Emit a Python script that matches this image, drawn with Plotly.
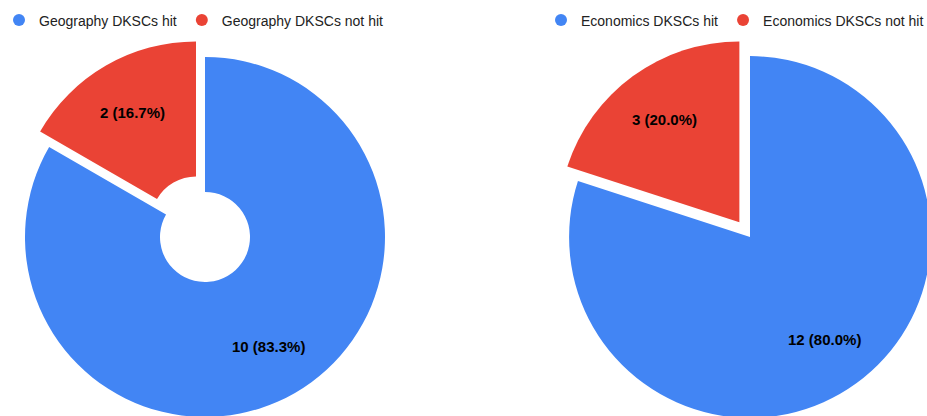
import math
import plotly.graph_objects as go

# ---- data ----
geo_labels = ["Geography DKSCs hit", "Geography DKSCs not hit"]
geo_values = [10, 2]
econ_labels = ["Economics DKSCs hit", "Economics DKSCs not hit"]
econ_values = [12, 3]
slice_colors = ["#4285F4", "#EA4335"]
pull_values = [0, 0.1]

# ---- layout geometry (page pixels) ----
# The original chart is cropped at the right and bottom edges, so the figure
# is a bit larger than the window and the page's overflow is hidden.
W, H = 950, 440
OFF = 0


def px_x(p):
    return (p - OFF) / W


def px_y(p):
    return 1 - (p - OFF) / H


# pie centres and half-sizes of their (square) domains, in page pixels
geo_c, geo_half = (205, 237), 198
econ_c, econ_half = (750, 237), 199


def dom(c, half):
    return dict(x=[px_x(c[0] - half), px_x(c[0] + half)],
                y=[px_y(c[1] + half), px_y(c[1] - half)])


def slice_labels(values, c, half, pulls, frac=0.7):
    """Place each slice's label on its mid-angle ray, like the original chart."""
    r = half / (1 + max(pulls))
    total = sum(values)
    out = []
    cum = 0
    for v, p in zip(values, pulls):
        th = 2 * math.pi * (cum + v / 2) / total
        cum += v
        sx, sy = math.sin(th), -math.cos(th)
        x = c[0] + (p + frac) * r * sx
        y = c[1] + (p + frac) * r * sy
        out.append(dict(x=px_x(x), y=px_y(y), xref="paper", yref="paper",
                        text=f"{v} ({100 * v / total:.1f}%)", showarrow=False,
                        xanchor="center", yanchor="middle",
                        font=dict(family="Arial", size=15, color="#000000",
                                  weight="bold")))
    return out


fig = go.Figure()

fig.add_trace(go.Pie(
    labels=geo_labels, values=geo_values, sort=False, direction="clockwise", rotation=0,
    hole=0.25, pull=pull_values,
    marker=dict(colors=slice_colors, line=dict(width=0)),
    textinfo="none", showlegend=False, hoverinfo="label+value+percent",
    domain=dom(geo_c, geo_half),
))

fig.add_trace(go.Pie(
    labels=econ_labels, values=econ_values, sort=False, direction="clockwise", rotation=0,
    pull=pull_values,
    marker=dict(colors=slice_colors, line=dict(width=0)),
    textinfo="none", showlegend=False, hoverinfo="label+value+percent",
    domain=dom(econ_c, econ_half),
))

# legend entries (circle markers)
for lab, col in zip(geo_labels, slice_colors):
    fig.add_trace(go.Scatter(x=[None], y=[None], mode="markers", name=lab,
                             marker=dict(symbol="circle", size=13, color=col),
                             legend="legend"))
for lab, col in zip(econ_labels, slice_colors):
    fig.add_trace(go.Scatter(x=[None], y=[None], mode="markers", name=lab,
                             marker=dict(symbol="circle", size=13, color=col),
                             legend="legend2"))

legend_common = dict(orientation="h", yanchor="middle", xanchor="left",
                     font=dict(family="Arial", size=14, color="#222222"),
                     bgcolor="rgba(0,0,0,0)", itemsizing="constant")

annotations = slice_labels(geo_values, geo_c, geo_half, pull_values) + \
    slice_labels(econ_values, econ_c, econ_half, pull_values)

fig.update_layout(
    width=W, height=H,
    margin=dict(l=0, r=0, t=0, b=0, autoexpand=False),
    paper_bgcolor="white", plot_bgcolor="white",
    xaxis=dict(visible=False), yaxis=dict(visible=False),
    legend=dict(x=px_x(-1), y=px_y(20.5), **legend_common),
    legend2=dict(x=px_x(541), y=px_y(20.5), **legend_common),
    showlegend=True,
    annotations=annotations,
)

page_style = ("document.documentElement.style.overflow='hidden';"
              "document.body.style.overflow='hidden';"
              "document.body.style.margin='0';")
fig.write_html("out.html", post_script=page_style,
               config={"displayModeBar": False})
